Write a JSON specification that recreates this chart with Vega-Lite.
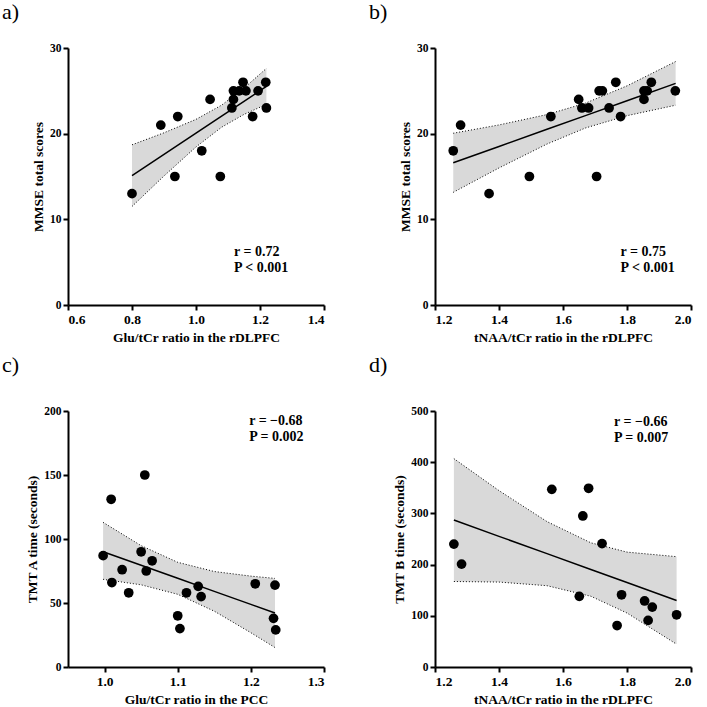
{
  "$schema": "https://vega.github.io/schema/vega-lite/v6.json",
  "background": "white",
  "padding": {"left": 2, "top": 1, "right": 5, "bottom": 0},
  "datasets": {
    "a_pts": [
      {"x": 0.80, "y": 13}, {"x": 0.89, "y": 21}, {"x": 0.943, "y": 22}, {"x": 0.934, "y": 15},
      {"x": 1.018, "y": 18}, {"x": 1.044, "y": 24}, {"x": 1.076, "y": 15}, {"x": 1.112, "y": 23},
      {"x": 1.117, "y": 24}, {"x": 1.117, "y": 25}, {"x": 1.135, "y": 25}, {"x": 1.147, "y": 26},
      {"x": 1.156, "y": 25}, {"x": 1.177, "y": 22}, {"x": 1.194, "y": 25}, {"x": 1.218, "y": 26},
      {"x": 1.22, "y": 23}
    ],
    "a_band": [
      {"x": 0.80, "fit": 15.1, "lo": 11.5, "hi": 18.7},
      {"x": 0.90, "fit": 17.58, "lo": 15.06, "hi": 20.1},
      {"x": 1.00, "fit": 20.06, "lo": 18.45, "hi": 21.67},
      {"x": 1.08, "fit": 22.04, "lo": 20.75, "hi": 23.33},
      {"x": 1.15, "fit": 23.78, "lo": 22.25, "hi": 25.31},
      {"x": 1.22, "fit": 25.52, "lo": 23.42, "hi": 27.62}
    ],
    "a_txt": [{"x": 1.119, "y": 5.76, "label": "r = 0.72\nP < 0.001"}],
    "b_pts": [
      {"x": 1.257, "y": 18}, {"x": 1.28, "y": 21}, {"x": 1.369, "y": 13}, {"x": 1.495, "y": 15},
      {"x": 1.562, "y": 22}, {"x": 1.649, "y": 24}, {"x": 1.659, "y": 23}, {"x": 1.68, "y": 23},
      {"x": 1.705, "y": 15}, {"x": 1.713, "y": 25}, {"x": 1.723, "y": 25}, {"x": 1.744, "y": 23},
      {"x": 1.765, "y": 26}, {"x": 1.78, "y": 22}, {"x": 1.853, "y": 24}, {"x": 1.853, "y": 25},
      {"x": 1.863, "y": 25}, {"x": 1.876, "y": 26}, {"x": 1.951, "y": 25}
    ],
    "b_band": [
      {"x": 1.257, "fit": 16.6, "lo": 13.15, "hi": 20.05},
      {"x": 1.40, "fit": 18.51, "lo": 16.0, "hi": 21.02},
      {"x": 1.55, "fit": 20.51, "lo": 18.79, "hi": 22.23},
      {"x": 1.67, "fit": 22.11, "lo": 20.66, "hi": 23.56},
      {"x": 1.80, "fit": 23.84, "lo": 22.1, "hi": 25.58},
      {"x": 1.952, "fit": 25.87, "lo": 23.32, "hi": 28.42}
    ],
    "b_txt": [{"x": 1.78, "y": 5.76, "label": "r = 0.75\nP < 0.001"}],
    "c_pts": [
      {"x": 1.055, "y": 150}, {"x": 1.009, "y": 131}, {"x": 0.998, "y": 87}, {"x": 1.05, "y": 90},
      {"x": 1.065, "y": 83}, {"x": 1.024, "y": 76}, {"x": 1.057, "y": 75}, {"x": 1.01, "y": 66},
      {"x": 1.033, "y": 58}, {"x": 1.128, "y": 63}, {"x": 1.112, "y": 58}, {"x": 1.132, "y": 55},
      {"x": 1.10, "y": 40}, {"x": 1.103, "y": 30}, {"x": 1.206, "y": 65}, {"x": 1.233, "y": 64},
      {"x": 1.231, "y": 38}, {"x": 1.234, "y": 29}
    ],
    "c_band": [
      {"x": 0.998, "fit": 90.1, "lo": 68.5, "hi": 113.0},
      {"x": 1.05, "fit": 79.5, "lo": 64.2, "hi": 94.8},
      {"x": 1.10, "fit": 69.3, "lo": 56.8, "hi": 81.8},
      {"x": 1.15, "fit": 59.1, "lo": 43.6, "hi": 74.6},
      {"x": 1.20, "fit": 48.9, "lo": 26.8, "hi": 71.0},
      {"x": 1.233, "fit": 42.2, "lo": 15.2, "hi": 69.2}
    ],
    "c_txt": [{"x": 1.1977, "y": 188.8, "label": "r = \u22120.68\nP = 0.002"}],
    "d_pts": [
      {"x": 1.259, "y": 240}, {"x": 1.283, "y": 201}, {"x": 1.565, "y": 347}, {"x": 1.68, "y": 349},
      {"x": 1.662, "y": 295}, {"x": 1.722, "y": 241}, {"x": 1.651, "y": 138}, {"x": 1.783, "y": 141},
      {"x": 1.855, "y": 129}, {"x": 1.879, "y": 117}, {"x": 1.866, "y": 91}, {"x": 1.769, "y": 81},
      {"x": 1.955, "y": 102}
    ],
    "d_band": [
      {"x": 1.259, "fit": 287, "lo": 167, "hi": 407},
      {"x": 1.40, "fit": 255.2, "lo": 165.9, "hi": 344.5},
      {"x": 1.55, "fit": 221.4, "lo": 158.8, "hi": 284},
      {"x": 1.687, "fit": 190.4, "lo": 138.2, "hi": 242.6},
      {"x": 1.80, "fit": 164.9, "lo": 105.4, "hi": 224.4},
      {"x": 1.955, "fit": 130, "lo": 44.5, "hi": 215.5}
    ],
    "d_txt": [{"x": 1.7595, "y": 470.2, "label": "r = \u22120.66\nP = 0.007"}]
  },
  "concat": [
    {
      "width": 256, "height": 257,
      "title": {"text": "a)", "offset": 18},
      "layer": [
        {"data": {"name": "a_band"}, "mark": {"type": "area", "color": "#d9d9d9", "opacity": 1},
         "encoding": {
           "x": {"field": "x", "type": "quantitative", "title": "Glu/tCr ratio in the rDLPFC", "scale": {"domain": [0.6, 1.4], "nice": false, "zero": false}, "axis": {"values": [0.6, 0.8, 1.0, 1.2, 1.4], "format": ".1f"}},
           "y": {"field": "hi", "type": "quantitative", "title": "MMSE total scores", "scale": {"domain": [0, 30], "nice": false}, "axis": {"values": [0, 10, 20, 30]}},
           "y2": {"field": "lo"}}},
        {"data": {"name": "a_band"}, "mark": {"type": "line", "color": "black", "strokeWidth": 1, "strokeDash": [1, 2]},
         "encoding": {"x": {"field": "x", "type": "quantitative", "title": "Glu/tCr ratio in the rDLPFC"}, "y": {"field": "hi", "type": "quantitative", "title": "MMSE total scores"}}},
        {"data": {"name": "a_band"}, "mark": {"type": "line", "color": "black", "strokeWidth": 1, "strokeDash": [1, 2]},
         "encoding": {"x": {"field": "x", "type": "quantitative", "title": "Glu/tCr ratio in the rDLPFC"}, "y": {"field": "lo", "type": "quantitative", "title": "MMSE total scores"}}},
        {"data": {"name": "a_band"}, "mark": {"type": "line", "color": "black", "strokeWidth": 1.5},
         "encoding": {"x": {"field": "x", "type": "quantitative", "title": "Glu/tCr ratio in the rDLPFC"}, "y": {"field": "fit", "type": "quantitative", "title": "MMSE total scores"}}},
        {"data": {"name": "a_pts"}, "mark": {"type": "circle", "color": "black", "opacity": 1, "size": 95},
         "encoding": {"x": {"field": "x", "type": "quantitative", "title": "Glu/tCr ratio in the rDLPFC"}, "y": {"field": "y", "type": "quantitative", "title": "MMSE total scores"}}},
        {"data": {"name": "a_txt"}, "mark": {"type": "text", "align": "left", "baseline": "alphabetic", "font": "Liberation Serif", "fontWeight": "bold", "fontSize": 14, "lineBreak": "\n", "lineHeight": 16, "color": "black"},
         "encoding": {"x": {"field": "x", "type": "quantitative", "title": "Glu/tCr ratio in the rDLPFC"}, "y": {"field": "y", "type": "quantitative", "title": "MMSE total scores"}, "text": {"field": "label"}}}
      ]
    },
    {
      "width": 256, "height": 257,
      "title": {"text": "b)", "offset": 18},
      "layer": [
        {"data": {"name": "b_band"}, "mark": {"type": "area", "color": "#d9d9d9", "opacity": 1},
         "encoding": {
           "x": {"field": "x", "type": "quantitative", "title": "tNAA/tCr ratio in the rDLPFC", "scale": {"domain": [1.2, 2.0], "nice": false, "zero": false}, "axis": {"values": [1.2, 1.4, 1.6, 1.8, 2.0], "format": ".1f"}},
           "y": {"field": "hi", "type": "quantitative", "title": "MMSE total scores", "scale": {"domain": [0, 30], "nice": false}, "axis": {"values": [0, 10, 20, 30]}},
           "y2": {"field": "lo"}}},
        {"data": {"name": "b_band"}, "mark": {"type": "line", "color": "black", "strokeWidth": 1, "strokeDash": [1, 2]},
         "encoding": {"x": {"field": "x", "type": "quantitative", "title": "tNAA/tCr ratio in the rDLPFC"}, "y": {"field": "hi", "type": "quantitative", "title": "MMSE total scores"}}},
        {"data": {"name": "b_band"}, "mark": {"type": "line", "color": "black", "strokeWidth": 1, "strokeDash": [1, 2]},
         "encoding": {"x": {"field": "x", "type": "quantitative", "title": "tNAA/tCr ratio in the rDLPFC"}, "y": {"field": "lo", "type": "quantitative", "title": "MMSE total scores"}}},
        {"data": {"name": "b_band"}, "mark": {"type": "line", "color": "black", "strokeWidth": 1.5},
         "encoding": {"x": {"field": "x", "type": "quantitative", "title": "tNAA/tCr ratio in the rDLPFC"}, "y": {"field": "fit", "type": "quantitative", "title": "MMSE total scores"}}},
        {"data": {"name": "b_pts"}, "mark": {"type": "circle", "color": "black", "opacity": 1, "size": 95},
         "encoding": {"x": {"field": "x", "type": "quantitative", "title": "tNAA/tCr ratio in the rDLPFC"}, "y": {"field": "y", "type": "quantitative", "title": "MMSE total scores"}}},
        {"data": {"name": "b_txt"}, "mark": {"type": "text", "align": "left", "baseline": "alphabetic", "font": "Liberation Serif", "fontWeight": "bold", "fontSize": 14, "lineBreak": "\n", "lineHeight": 16, "color": "black"},
         "encoding": {"x": {"field": "x", "type": "quantitative", "title": "tNAA/tCr ratio in the rDLPFC"}, "y": {"field": "y", "type": "quantitative", "title": "MMSE total scores"}, "text": {"field": "label"}}}
      ]
    },
    {
      "width": 256, "height": 256,
      "title": {"text": "c)", "offset": 28},
      "layer": [
        {"data": {"name": "c_band"}, "mark": {"type": "area", "color": "#d9d9d9", "opacity": 1},
         "encoding": {
           "x": {"field": "x", "type": "quantitative", "title": "Glu/tCr ratio in the PCC", "scale": {"domain": [0.95, 1.3], "nice": false, "zero": false}, "axis": {"values": [1.0, 1.1, 1.2, 1.3], "format": ".1f"}},
           "y": {"field": "hi", "type": "quantitative", "title": "TMT A  time (seconds)", "scale": {"domain": [0, 200], "nice": false}, "axis": {"values": [0, 50, 100, 150, 200]}},
           "y2": {"field": "lo"}}},
        {"data": {"name": "c_band"}, "mark": {"type": "line", "color": "black", "strokeWidth": 1, "strokeDash": [1, 2]},
         "encoding": {"x": {"field": "x", "type": "quantitative", "title": "Glu/tCr ratio in the PCC"}, "y": {"field": "hi", "type": "quantitative", "title": "TMT A  time (seconds)"}}},
        {"data": {"name": "c_band"}, "mark": {"type": "line", "color": "black", "strokeWidth": 1, "strokeDash": [1, 2]},
         "encoding": {"x": {"field": "x", "type": "quantitative", "title": "Glu/tCr ratio in the PCC"}, "y": {"field": "lo", "type": "quantitative", "title": "TMT A  time (seconds)"}}},
        {"data": {"name": "c_band"}, "mark": {"type": "line", "color": "black", "strokeWidth": 1.5},
         "encoding": {"x": {"field": "x", "type": "quantitative", "title": "Glu/tCr ratio in the PCC"}, "y": {"field": "fit", "type": "quantitative", "title": "TMT A  time (seconds)"}}},
        {"data": {"name": "c_pts"}, "mark": {"type": "circle", "color": "black", "opacity": 1, "size": 95},
         "encoding": {"x": {"field": "x", "type": "quantitative", "title": "Glu/tCr ratio in the PCC"}, "y": {"field": "y", "type": "quantitative", "title": "TMT A  time (seconds)"}}},
        {"data": {"name": "c_txt"}, "mark": {"type": "text", "align": "left", "baseline": "alphabetic", "font": "Liberation Serif", "fontWeight": "bold", "fontSize": 14, "lineBreak": "\n", "lineHeight": 16, "color": "black"},
         "encoding": {"x": {"field": "x", "type": "quantitative", "title": "Glu/tCr ratio in the PCC"}, "y": {"field": "y", "type": "quantitative", "title": "TMT A  time (seconds)"}, "text": {"field": "label"}}}
      ]
    },
    {
      "width": 256, "height": 256,
      "title": {"text": "d)", "offset": 28},
      "layer": [
        {"data": {"name": "d_band"}, "mark": {"type": "area", "color": "#d9d9d9", "opacity": 1},
         "encoding": {
           "x": {"field": "x", "type": "quantitative", "title": "tNAA/tCr ratio in the rDLPFC", "scale": {"domain": [1.2, 2.0], "nice": false, "zero": false}, "axis": {"values": [1.2, 1.4, 1.6, 1.8, 2.0], "format": ".1f"}},
           "y": {"field": "hi", "type": "quantitative", "title": "TMT  B time (seconds)", "scale": {"domain": [0, 500], "nice": false}, "axis": {"values": [0, 100, 200, 300, 400, 500]}},
           "y2": {"field": "lo"}}},
        {"data": {"name": "d_band"}, "mark": {"type": "line", "color": "black", "strokeWidth": 1, "strokeDash": [1, 2]},
         "encoding": {"x": {"field": "x", "type": "quantitative", "title": "tNAA/tCr ratio in the rDLPFC"}, "y": {"field": "hi", "type": "quantitative", "title": "TMT  B time (seconds)"}}},
        {"data": {"name": "d_band"}, "mark": {"type": "line", "color": "black", "strokeWidth": 1, "strokeDash": [1, 2]},
         "encoding": {"x": {"field": "x", "type": "quantitative", "title": "tNAA/tCr ratio in the rDLPFC"}, "y": {"field": "lo", "type": "quantitative", "title": "TMT  B time (seconds)"}}},
        {"data": {"name": "d_band"}, "mark": {"type": "line", "color": "black", "strokeWidth": 1.5},
         "encoding": {"x": {"field": "x", "type": "quantitative", "title": "tNAA/tCr ratio in the rDLPFC"}, "y": {"field": "fit", "type": "quantitative", "title": "TMT  B time (seconds)"}}},
        {"data": {"name": "d_pts"}, "mark": {"type": "circle", "color": "black", "opacity": 1, "size": 95},
         "encoding": {"x": {"field": "x", "type": "quantitative", "title": "tNAA/tCr ratio in the rDLPFC"}, "y": {"field": "y", "type": "quantitative", "title": "TMT  B time (seconds)"}}},
        {"data": {"name": "d_txt"}, "mark": {"type": "text", "align": "left", "baseline": "alphabetic", "font": "Liberation Serif", "fontWeight": "bold", "fontSize": 14, "lineBreak": "\n", "lineHeight": 16, "color": "black"},
         "encoding": {"x": {"field": "x", "type": "quantitative", "title": "tNAA/tCr ratio in the rDLPFC"}, "y": {"field": "y", "type": "quantitative", "title": "TMT  B time (seconds)"}, "text": {"field": "label"}}}
      ]
    }
  ],
  "columns": 2,
  "spacing": {"row": 106, "column": 111},
  "bounds": "flush",
  "config": {
    "view": {"stroke": null},
    "font": "Liberation Serif",
    "axis": {
      "grid": false, "domainColor": "black", "domainWidth": 2, "tickColor": "black", "tickWidth": 2, "tickSize": 5,
      "labelFont": "Liberation Serif", "labelFontWeight": "bold", "labelColor": "black", "labelPadding": 2,
      "titleFont": "Liberation Serif", "titleFontWeight": "bold", "titleFontSize": 13.5, "titleColor": "black"
    },
    "axisX": {"labelFontSize": 13.5, "titlePadding": 5},
    "axisY": {"labelFontSize": 11.5, "titlePadding": 4},
    "title": {"anchor": "start", "frame": "group", "font": "Liberation Serif", "fontSize": 22, "fontWeight": "normal", "color": "black", "dx": -66, "baseline": "alphabetic"}
  }
}
